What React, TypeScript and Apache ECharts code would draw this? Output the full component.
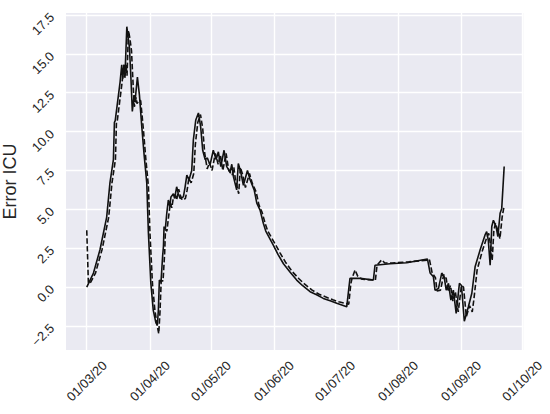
import React, { useEffect, useRef } from "react";
import * as echarts from "echarts";

// x values are days since 01/03/2020
const monthTickDays = [0, 31, 61, 92, 122, 153, 184, 214];
const monthTickLabels = ["01/03/20", "01/04/20", "01/05/20", "01/06/20", "01/07/20", "01/08/20", "01/09/20", "01/10/20"];
const yTickValues = [-2.5, 0, 2.5, 5, 7.5, 10, 12.5, 15, 17.5];

const solidDays = [
  0, 3.3, 6.5, 9.8, 11.4, 13.1, 13.6, 14.0, 16.4, 17.2, 17.7, 18.3, 18.8, 19.7, 20.2, 21, 21.8, 22.4, 23.3, 23.7,
  24.9, 25.9, 27, 28.2, 29.5, 30.3, 31.5, 32.7, 34.0, 34.7, 35.2, 35.7, 36.5, 37.3, 37.7, 38.0, 38.6, 39.3, 40.1, 40.8,
  41.4, 42.6, 43.2, 44.2, 45.0, 45.9, 47.5, 48.3, 49.2, 50.3, 51.6, 52.4, 53.6, 54.9, 56, 57, 58.2, 59.3, 60.6, 62.2,
  63.6, 64.7, 65.9, 67.5, 68.8, 70.5, 71.3, 72.1, 73.7, 74.5, 75.7, 77, 79, 80.3, 82.3, 83.6, 85.2, 86.8, 88, 91.7,
  94, 96.7, 100, 103.2, 106, 109.8, 113, 116.3, 120, 122.9, 127.8, 129.4, 134.4, 140.9, 141.7, 149.1, 157.3, 167.5, 168.8, 170.4,
  171.2, 172.9, 174.5, 175.7, 176.7, 177.8, 179, 180.2, 181.6, 183.2, 184.2, 185.6, 187.6, 189.3, 190.9, 193.4, 195.8, 196.6, 197.4, 198.3,
  199.1, 199.9, 201.2, 202.1, 203.2, 204, 205.2,
];
const solidValues = [
  0, 0.9, 2.4, 4.5, 6.7, 8.2, 10.6, 10.7, 13.2, 14.3, 13.4, 14.3, 13.6, 16.75, 16.2, 15.4, 13.2, 11.3, 12.35, 11.9,
  13.5, 12.35, 10.4, 8.5, 6.7, 3.5, 0.25, -1.5, -2.3, -2.45, -1.5, 0.45, 0.3, 2.0, 2.6, 3.9, 3.7, 4.7, 5.6, 5.2,
  5.8, 6.0, 5.7, 6.45, 6.0, 5.7, 5.8, 6.4, 7.2, 6.9, 7.5, 9.46, 10.75, 11.2, 10.3, 8.8, 8.2, 8.3, 7.85, 8.8,
  8.2, 8.7, 7.75, 8.8, 7.75, 7.4, 7.9, 7.1, 6.25, 7.95, 7.4, 6.55, 7.5, 6.9, 6.25, 5.4, 4.95, 4.1, 3.6, 2.7,
  2.1, 1.5, 0.95, 0.45, 0.1, -0.3, -0.5, -0.73, -0.9, -1.05, -1.27, 0.56, 0.56, 0.45, 1.4, 1.5, 1.56, 1.8, 0.9, 0.66,
  -0.2, -0.1, 0.9, 0.66, -0.2, 0.24, -0.84, -0.2, -1.7, 0.24, 0.1, -2.2, -1.27, -0.4, 1.3, 2.4, 3.35, 3.56, 3.0, 1.4,
  3.9, 4.3, 3.9, 3.25, 4.75, 5.06, 7.75,
];

const dashedDays = [
  0, 0.8, 1.5, 4.3, 7.5, 10.8, 12.4, 14.1, 14.6, 15.0, 17.4, 18.2, 18.7, 19.3, 19.8, 20.5, 21.2, 22, 22.8, 23.4,
  24.3, 24.7, 25.7, 26.5, 27.8, 29, 30.3, 31.1, 32.3, 33.5, 34.8, 35.4, 36, 36.6, 37.5, 38.3, 38.7, 39.4, 40.3, 41.1,
  41.8, 42.4, 43.6, 44.2, 45.2, 46, 46.9, 48.5, 49.3, 50.2, 51.3, 52.6, 53.4, 54.6, 55.9, 57, 58, 59.2, 60.3, 61.6,
  63.2, 64.6, 65.7, 66.9, 68.5, 69.8, 71.5, 72.3, 73.1, 74.7, 75.5, 76.7, 78, 80, 81.3, 83.3, 84.6, 86.2, 87.8, 89,
  92.7, 95, 97.7, 101, 104.2, 107, 110.8, 114, 117.3, 121, 123.9, 128.8, 129.8, 130.4, 131.9, 133.2, 135.4, 141.9, 142.7, 145,
  146.5, 150.1, 158.3, 168.5, 169.8, 171.4, 172.2, 173.9, 175.5, 176.7, 177.7, 178.8, 180, 181.2, 182.6, 184.2, 185.2, 186.6, 188.2, 189.5,
  190.3, 191.9, 194.4, 196.8, 197.6, 198.4, 199.3, 200.1, 200.9, 202.2, 203.1, 204.2, 205,
];
const dashedValues = [
  3.65, 0.3, 0.2, 0.9, 2.4, 4.5, 6.7, 8.2, 10.6, 10.7, 13.2, 14.3, 13.4, 14.3, 13.6, 16.5, 16.0, 15.2, 13.0, 11.6,
  12.2, 11.8, 12.0, 12.0, 10.2, 8.3, 6.5, 3.4, 0.2, -1.5, -2.6, -3.0, -1.6, 0.4, 0.4, 2.2, 3.7, 3.6, 4.6, 5.4,
  5.1, 5.6, 5.9, 5.6, 6.3, 5.9, 5.6, 5.7, 6.2, 7.0, 6.7, 7.3, 9.2, 10.6, 11.1, 10.2, 8.6, 7.6, 8.0, 7.5,
  8.6, 7.9, 8.5, 7.5, 8.6, 7.5, 7.2, 7.7, 6.9, 6.0, 7.7, 7.2, 6.4, 7.3, 6.7, 6.1, 5.3, 4.8, 4.05, 3.6,
  2.75, 2.2, 1.6, 1.0, 0.55, 0.2, -0.2, -0.45, -0.63, -0.82, -0.95, -1.1, 0.2, 0.56, 1.1, 0.7, 0.5, 0.45, 1.4, 1.75,
  1.55, 1.55, 1.62, 1.75, 0.9, 0.6, -0.25, -0.2, 0.8, 0.55, -0.3, 0.1, -0.9, -0.3, -1.6, 0.1, 0.0, -1.9, -1.2, -1.6,
  -0.8, 1.1, 2.3, 3.25, 3.45, 2.8, 1.7, 3.6, 4.1, 3.6, 3.1, 4.5, 5.1,
];

const textColor = "#262626";
const font = "'Liberation Sans', Arial, sans-serif";

export default function App() {
  const ref = useRef<HTMLDivElement>(null);
  useEffect(() => {
    if (!ref.current) return;
    const chart = echarts.init(ref.current, undefined, { renderer: "svg" });
    const solid = solidDays.map((d, i) => [d, solidValues[i]]);
    const dashed = dashedDays.map((d, i) => [d, dashedValues[i]]);
    chart.setOption({
      animation: false,
      backgroundColor: "#ffffff",
      grid: {
        left: 66,
        right: 26.7,
        top: 13,
        bottom: 64,
        show: true,
        backgroundColor: "#EAEAF2",
        borderWidth: 0,
        containLabel: false,
        outerBoundsMode: "none",
      },
      xAxis: {
        type: "value",
        min: -10.2,
        max: 214.6,
        axisLine: { show: false },
        axisTick: { show: false, customValues: monthTickDays },
        splitLine: { show: true, lineStyle: { color: "#ffffff", width: 1.4 } },
        axisLabel: {
          customValues: monthTickDays,
          rotate: 45,
          align: "center",
          verticalAlign: "middle",
          margin: 31,
          fontSize: 13,
          color: textColor,
          fontFamily: font,
          formatter: (v: number) => {
            const i = monthTickDays.indexOf(Math.round(v));
            return i >= 0 ? monthTickLabels[i] : "";
          },
        },
      },
      yAxis: {
        type: "value",
        min: -4.05,
        max: 17.63,
        name: "Error ICU",
        nameLocation: "middle",
        nameRotate: 90,
        nameGap: 40,
        nameTextStyle: { fontSize: 18, color: textColor, fontFamily: font },
        axisLine: { show: false },
        axisTick: { show: false, customValues: yTickValues },
        splitLine: { show: true, lineStyle: { color: "#ffffff", width: 1.4 } },
        axisLabel: {
          customValues: yTickValues,
          rotate: 45,
          margin: 14,
          fontSize: 13,
          color: textColor,
          fontFamily: font,
          formatter: (v: number) => (v < 0 ? "\u2212" + Math.abs(v).toFixed(1) : v.toFixed(1)),
        },
      },
      series: [
        {
          type: "line",
          data: solid,
          showSymbol: false,
          lineStyle: { color: "#111111", width: 1.6 },
          z: 2,
        },
        {
          type: "line",
          data: dashed,
          showSymbol: false,
          lineStyle: { color: "#111111", width: 1.6, type: [5.5, 2.4] },
          z: 3,
        },
      ],
    });
    return () => chart.dispose();
  }, []);
  return <div ref={ref} style={{ width: 550, height: 414, position: "fixed", left: 0, top: 0 }} />;
}
